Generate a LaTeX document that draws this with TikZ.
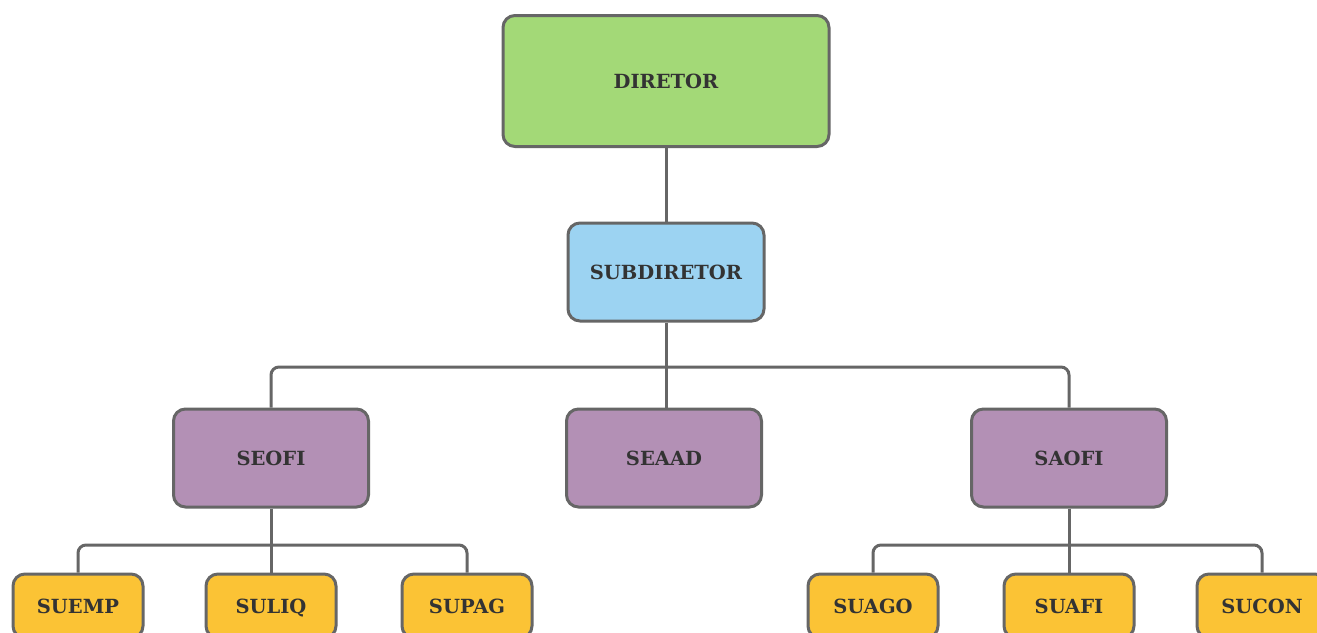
\documentclass[tikz,border=0pt]{standalone}
\usepackage{fontspec}
\setmainfont{DejaVu Serif}
\definecolor{lncol}{HTML}{666666}
\definecolor{txtcol}{HTML}{333333}
\definecolor{greenfill}{HTML}{A3D977}
\definecolor{bluefill}{HTML}{9CD3F2}
\definecolor{purplefill}{HTML}{B390B5}
\definecolor{yellowfill}{HTML}{FBC335}
\tikzset{
  box/.style={draw=lncol, line width=3pt, rounded corners=12pt, text=txtcol,
    font=\fontsize{19.5}{22}\selectfont\bfseries, inner sep=0pt, align=center,
    text height=14.2pt, text depth=0pt},
  dirbox/.style={box, fill=greenfill, minimum width=326pt, minimum height=131pt},
  subbox/.style={box, fill=bluefill, minimum width=196pt, minimum height=98pt},
  secbox/.style={box, fill=purplefill, minimum width=195pt, minimum height=98pt},
  unitbox/.style={box, fill=yellowfill, minimum width=130pt, minimum height=64pt},
  link/.style={draw=lncol, line width=3pt, rounded corners=8pt}
}
\begin{document}
\begin{tikzpicture}[x=1pt,y=-1pt]
\useasboundingbox (0,0) rectangle (1317,632);
\clip (0,0) rectangle (1317,632);
\fill[white] (0,0) rectangle (1317,632);
\node[dirbox] (dir) at (666,81) {DIRETOR};
\node[subbox] (sub) at (666,272) {SUBDIRETOR};
\node[secbox] (seofi) at (271,458) {SEOFI};
\node[secbox] (seaad) at (664,458) {SEAAD};
\node[secbox] (saofi) at (1069,458) {SAOFI};
\node[unitbox] (suemp) at (78,606) {SUEMP};
\node[unitbox] (suliq) at (271,606) {SULIQ};
\node[unitbox] (supag) at (467,606) {SUPAG};
\node[unitbox] (suago) at (873,606) {SUAGO};
\node[unitbox] (suafi) at (1069,606) {SUAFI};
\node[unitbox] (sucon) at (1262,606) {SUCON};
\coordinate (bar1) at (666,367);
\coordinate (bar2) at (271,545);
\coordinate (bar3) at (1069,545);
\path[link] (dir.south) -- (sub.north);
\path[link] (sub.south) -- (sub.south |- seaad.north);
\path[link] (seofi.north) |- (bar1) -| (saofi.north);
\path[link] (seofi.south) -- (suliq.north);
\path[link] (suemp.north) |- (bar2) -| (supag.north);
\path[link] (saofi.south) -- (suafi.north);
\path[link] (suago.north) |- (bar3) -| (sucon.north);
\end{tikzpicture}
\end{document}
